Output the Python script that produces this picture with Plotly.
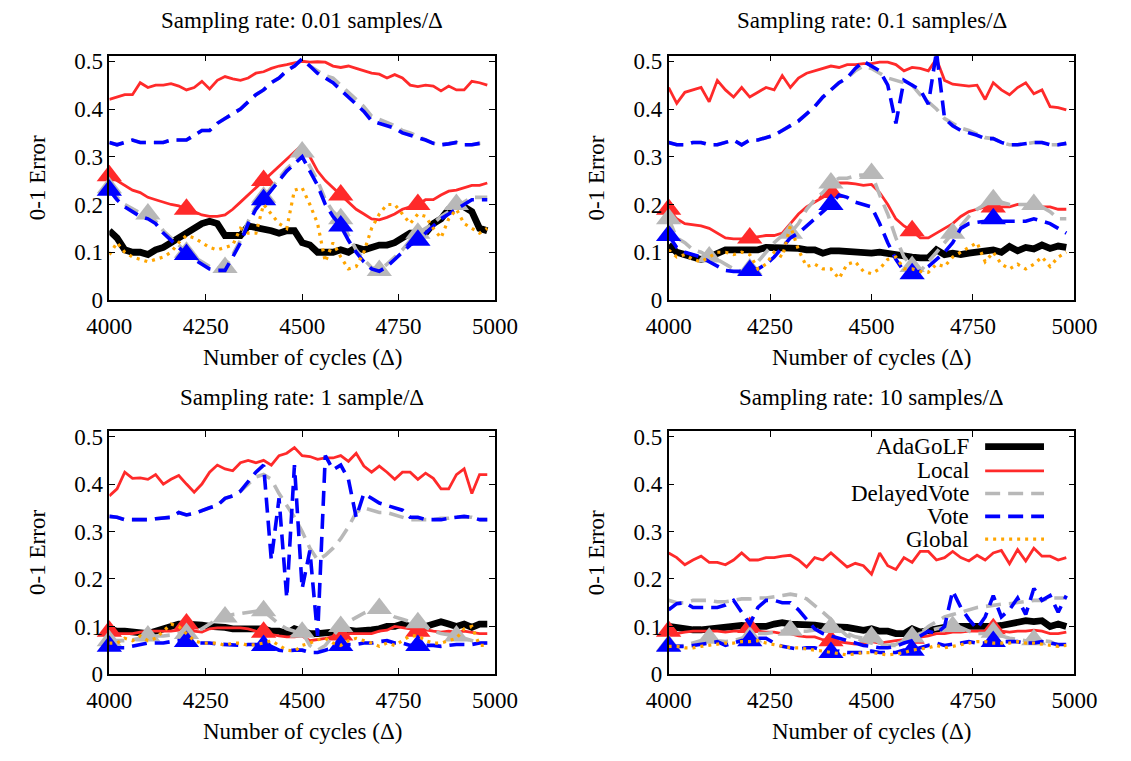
import plotly.graph_objects as go

# ---------------- data ----------------
cycles = [4000, 4020, 4040, 4060, 4080, 4100, 4120, 4140, 4160, 4180,
          4200, 4220, 4240, 4260, 4280, 4300, 4320, 4340, 4360, 4380,
          4400, 4420, 4440, 4460, 4480, 4500, 4520, 4540, 4560, 4580,
          4600, 4620, 4640, 4660, 4680, 4700, 4720, 4740, 4760, 4780,
          4800, 4820, 4840, 4860, 4880, 4900, 4920, 4940, 4960, 4980]

x_ticks = [4000, 4250, 4500, 4750, 5000]
y_ticks = [0, 0.1, 0.2, 0.3, 0.4, 0.5]
y_tick_labels = ["0", "0.1", "0.2", "0.3", "0.4", "0.5"]

panel_titles = ["Sampling rate: 0.01 samples/\u0394", "Sampling rate: 0.1 samples/\u0394",
                "Sampling rate: 1 sample/\u0394", "Sampling rate: 10 samples/\u0394"]
legend_names = ["AdaGoLF", "Local", "DelayedVote", "Vote", "Global"]

# Panel 1: 0.01 samples/Delta
p1_adagolf = [0.145, 0.13, 0.105, 0.1, 0.1, 0.095, 0.105, 0.11, 0.12, 0.13,
              0.14, 0.15, 0.16, 0.165, 0.16, 0.135, 0.135, 0.135, 0.155, 0.152,
              0.15, 0.145, 0.14, 0.145, 0.145, 0.12, 0.115, 0.1, 0.1, 0.1,
              0.105, 0.1, 0.11, 0.105, 0.11, 0.115, 0.115, 0.12, 0.13, 0.14,
              0.14, 0.14, 0.16, 0.17, 0.19, 0.2, 0.195, 0.185, 0.15, 0.145]
p1_local = [0.42, 0.425, 0.43, 0.43, 0.455, 0.445, 0.45, 0.45, 0.453, 0.448,
            0.44, 0.445, 0.458, 0.442, 0.46, 0.468, 0.463, 0.46, 0.465, 0.475,
            0.478, 0.485, 0.49, 0.493, 0.497, 0.5, 0.498, 0.499, 0.498, 0.49,
            0.487, 0.49, 0.485, 0.48, 0.475, 0.473, 0.465, 0.472, 0.465, 0.45,
            0.447, 0.45, 0.448, 0.438, 0.448, 0.44, 0.44, 0.458, 0.455, 0.45]
p1_local_b = [0.26, 0.25, 0.24, 0.23, 0.225, 0.215, 0.21, 0.205, 0.2, 0.197,
              0.19, 0.185, 0.178, 0.175, 0.175, 0.178, 0.19, 0.205, 0.22, 0.237,
              0.25, 0.265, 0.28, 0.295, 0.31, 0.325, 0.3, 0.27, 0.25, 0.235,
              0.22, 0.205, 0.19, 0.18, 0.17, 0.168, 0.173, 0.18, 0.19, 0.195,
              0.2, 0.21, 0.21, 0.22, 0.228, 0.23, 0.235, 0.24, 0.24, 0.245]
p1_delayed = [0.33, 0.325, 0.33, 0.335, 0.33, 0.33, 0.33, 0.33, 0.335, 0.335,
              0.335, 0.345, 0.355, 0.355, 0.37, 0.38, 0.39, 0.4, 0.415, 0.43,
              0.44, 0.455, 0.465, 0.48, 0.49, 0.505, 0.49, 0.48, 0.47, 0.465,
              0.45, 0.435, 0.42, 0.405, 0.385, 0.378, 0.372, 0.365, 0.355, 0.35,
              0.343, 0.335, 0.328, 0.325, 0.327, 0.33, 0.325, 0.325, 0.328, 0.33]
p1_delayed_b = [0.235, 0.215, 0.2, 0.19, 0.182, 0.18, 0.165, 0.145, 0.13, 0.115,
                0.1, 0.09, 0.08, 0.07, 0.067, 0.068, 0.095, 0.125, 0.165, 0.195,
                0.215, 0.235, 0.255, 0.275, 0.29, 0.31, 0.28, 0.25, 0.21, 0.185,
                0.17, 0.135, 0.105, 0.085, 0.068, 0.062, 0.075, 0.09, 0.105, 0.125,
                0.14, 0.15, 0.16, 0.175, 0.185, 0.2, 0.205, 0.215, 0.215, 0.215]
p1_vote = [0.33, 0.325, 0.33, 0.335, 0.33, 0.33, 0.33, 0.33, 0.335, 0.335,
           0.335, 0.345, 0.355, 0.355, 0.37, 0.38, 0.39, 0.4, 0.415, 0.43,
           0.44, 0.455, 0.465, 0.48, 0.49, 0.505, 0.49, 0.475, 0.465, 0.455,
           0.44, 0.425, 0.41, 0.395, 0.375, 0.37, 0.365, 0.36, 0.35, 0.345,
           0.34, 0.335, 0.328, 0.325, 0.327, 0.33, 0.325, 0.325, 0.328, 0.33]
p1_vote_b = [0.23, 0.21, 0.195, 0.185, 0.175, 0.17, 0.16, 0.14, 0.125, 0.11,
             0.095, 0.085, 0.075, 0.065, 0.062, 0.062, 0.09, 0.12, 0.16, 0.19,
             0.21, 0.23, 0.25, 0.27, 0.285, 0.3, 0.27, 0.24, 0.2, 0.175,
             0.155, 0.125, 0.1, 0.08, 0.065, 0.06, 0.07, 0.085, 0.1, 0.115,
             0.125, 0.14, 0.155, 0.17, 0.18, 0.19, 0.2, 0.21, 0.21, 0.21]
p1_global = [0.095, 0.12, 0.1, 0.09, 0.085, 0.08, 0.085, 0.09, 0.1, 0.12,
             0.135, 0.13, 0.12, 0.11, 0.105, 0.11, 0.115, 0.15, 0.14, 0.14,
             0.2, 0.18, 0.16, 0.15, 0.23, 0.235, 0.2, 0.16, 0.08, 0.12,
             0.09, 0.065, 0.07, 0.1, 0.15, 0.18, 0.2, 0.2, 0.18, 0.16,
             0.18, 0.175, 0.15, 0.13, 0.17, 0.19, 0.16, 0.15, 0.14, 0.15]

# Panel 2: 0.1 samples/Delta
p2_adagolf = [0.115, 0.1, 0.095, 0.09, 0.085, 0.09, 0.098, 0.105, 0.105, 0.105,
              0.105, 0.105, 0.11, 0.11, 0.108, 0.11, 0.108, 0.105, 0.105, 0.098,
              0.103, 0.103, 0.102, 0.1, 0.098, 0.098, 0.1, 0.097, 0.095, 0.09,
              0.09, 0.088, 0.088, 0.105, 0.095, 0.098, 0.095, 0.098, 0.1, 0.102,
              0.105, 0.1, 0.112, 0.103, 0.11, 0.107, 0.115, 0.108, 0.113, 0.11]
p2_local = [0.445, 0.412, 0.435, 0.44, 0.445, 0.415, 0.46, 0.44, 0.425, 0.445,
            0.425, 0.435, 0.445, 0.44, 0.47, 0.445, 0.465, 0.475, 0.48, 0.485,
            0.49, 0.487, 0.493, 0.493, 0.495, 0.495, 0.498, 0.498, 0.493, 0.48,
            0.487, 0.485, 0.48, 0.505, 0.46, 0.452, 0.45, 0.448, 0.45, 0.42,
            0.455, 0.44, 0.43, 0.445, 0.455, 0.432, 0.44, 0.405, 0.403, 0.398]
p2_local_b = [0.19, 0.17, 0.16, 0.158, 0.155, 0.15, 0.14, 0.13, 0.128, 0.128,
              0.13, 0.132, 0.135, 0.135, 0.14, 0.16, 0.18, 0.195, 0.205, 0.215,
              0.225, 0.245, 0.245, 0.243, 0.24, 0.242, 0.225, 0.2, 0.17, 0.155,
              0.145, 0.13, 0.13, 0.14, 0.15, 0.16, 0.175, 0.185, 0.19, 0.195,
              0.195, 0.195, 0.195, 0.2, 0.2, 0.198, 0.195, 0.195, 0.19, 0.19]
p2_delayed = [0.33, 0.325, 0.325, 0.33, 0.33, 0.325, 0.325, 0.33, 0.335, 0.325,
              0.335, 0.335, 0.34, 0.345, 0.355, 0.365, 0.375, 0.39, 0.405, 0.425,
              0.44, 0.455, 0.465, 0.48, 0.49, 0.485, 0.475, 0.465, 0.46, 0.455,
              0.45, 0.43, 0.415, 0.4, 0.38, 0.37, 0.36, 0.355, 0.348, 0.34,
              0.338, 0.33, 0.325, 0.325, 0.327, 0.33, 0.33, 0.325, 0.325, 0.328]
p2_delayed_b = [0.17, 0.13, 0.12, 0.105, 0.1, 0.09, 0.085, 0.075, 0.065, 0.06,
                0.065, 0.08, 0.1, 0.12, 0.135, 0.14, 0.16, 0.19, 0.21, 0.225,
                0.245, 0.255, 0.255, 0.26, 0.262, 0.265, 0.22, 0.18, 0.13, 0.09,
                0.07, 0.06, 0.08, 0.1, 0.12, 0.14, 0.155, 0.175, 0.19, 0.2,
                0.21, 0.205, 0.2, 0.2, 0.2, 0.2, 0.195, 0.185, 0.17, 0.17]
p2_vote = [0.33, 0.325, 0.325, 0.33, 0.33, 0.325, 0.325, 0.33, 0.335, 0.325,
           0.335, 0.335, 0.34, 0.345, 0.355, 0.365, 0.375, 0.39, 0.405, 0.425,
           0.44, 0.455, 0.465, 0.485, 0.5, 0.49, 0.48, 0.45, 0.37, 0.46,
           0.45, 0.44, 0.41, 0.52, 0.38, 0.365, 0.355, 0.35, 0.345, 0.338,
           0.338, 0.33, 0.325, 0.325, 0.327, 0.33, 0.33, 0.325, 0.325, 0.328]
p2_vote_b = [0.135, 0.11, 0.1, 0.095, 0.09, 0.08, 0.07, 0.062, 0.06, 0.06,
             0.062, 0.065, 0.075, 0.09, 0.11, 0.13, 0.14, 0.155, 0.17, 0.185,
             0.2, 0.22, 0.215, 0.205, 0.2, 0.195, 0.16, 0.12, 0.085, 0.06,
             0.055, 0.06, 0.07, 0.085, 0.1, 0.12, 0.15, 0.16, 0.162, 0.165,
             0.17, 0.165, 0.165, 0.165, 0.165, 0.17, 0.165, 0.16, 0.15, 0.14]
p2_global = [0.105, 0.09, 0.095, 0.085, 0.08, 0.09, 0.1, 0.1, 0.095, 0.1,
             0.095, 0.065, 0.075, 0.1, 0.09, 0.155, 0.105, 0.07, 0.075, 0.065,
             0.065, 0.045, 0.075, 0.08, 0.06, 0.055, 0.065, 0.085, 0.09, 0.065,
             0.065, 0.06, 0.058, 0.075, 0.07, 0.09, 0.1, 0.11, 0.12, 0.08,
             0.1, 0.075, 0.065, 0.075, 0.065, 0.075, 0.09, 0.07, 0.09, 0.1]

# Panel 3: 1 sample/Delta
p3_adagolf = [0.095, 0.09, 0.09, 0.088, 0.085, 0.085, 0.09, 0.095, 0.1, 0.105,
              0.105, 0.105, 0.103, 0.1, 0.1, 0.098, 0.095, 0.095, 0.095, 0.095,
              0.095, 0.09, 0.09, 0.085, 0.095, 0.09, 0.085, 0.085, 0.085, 0.088,
              0.09, 0.092, 0.09, 0.09, 0.093, 0.095, 0.1, 0.1, 0.105, 0.1,
              0.098, 0.1, 0.105, 0.11, 0.105, 0.1, 0.105, 0.098, 0.105, 0.105]
p3_local = [0.375, 0.39, 0.425, 0.412, 0.413, 0.41, 0.42, 0.4, 0.41, 0.418,
            0.4, 0.383, 0.4, 0.425, 0.44, 0.432, 0.428, 0.445, 0.45, 0.445,
            0.45, 0.44, 0.46, 0.465, 0.477, 0.46, 0.458, 0.452, 0.455, 0.455,
            0.46, 0.448, 0.465, 0.438, 0.425, 0.438, 0.425, 0.41, 0.425, 0.425,
            0.41, 0.423, 0.412, 0.39, 0.39, 0.42, 0.432, 0.38, 0.42, 0.42]
p3_local_b = [0.09, 0.085, 0.085, 0.085, 0.088, 0.09, 0.09, 0.09, 0.09, 0.092,
              0.105, 0.09, 0.088, 0.095, 0.097, 0.097, 0.097, 0.097, 0.095, 0.09,
              0.088, 0.083, 0.08, 0.078, 0.078, 0.08, 0.07, 0.072, 0.075, 0.078,
              0.082, 0.085, 0.085, 0.085, 0.085, 0.09, 0.092, 0.1, 0.098, 0.095,
              0.09, 0.093, 0.09, 0.088, 0.09, 0.088, 0.09, 0.088, 0.085, 0.085]
p3_delayed = [0.332, 0.33, 0.325, 0.325, 0.325, 0.325, 0.327, 0.328, 0.33, 0.34,
              0.335, 0.338, 0.345, 0.35, 0.355, 0.37, 0.375, 0.385, 0.4, 0.415,
              0.42, 0.41, 0.38, 0.355, 0.33, 0.3, 0.265, 0.24, 0.25, 0.265,
              0.285, 0.31, 0.34, 0.35, 0.345, 0.34, 0.34, 0.335, 0.33, 0.325,
              0.325, 0.325, 0.325, 0.328, 0.328, 0.33, 0.33, 0.33, 0.325, 0.325]
p3_delayed_b = [0.07, 0.07, 0.07, 0.072, 0.075, 0.08, 0.08, 0.08, 0.082, 0.085,
                0.085, 0.088, 0.095, 0.105, 0.115, 0.12, 0.125, 0.127, 0.13, 0.132,
                0.133, 0.12, 0.105, 0.095, 0.09, 0.088, 0.06, 0.05, 0.06, 0.08,
                0.1, 0.11, 0.12, 0.128, 0.135, 0.138, 0.13, 0.12, 0.115, 0.11,
                0.108, 0.1, 0.09, 0.085, 0.082, 0.08, 0.075, 0.07, 0.065, 0.065]
p3_vote = [0.332, 0.33, 0.325, 0.325, 0.325, 0.325, 0.327, 0.328, 0.33, 0.34,
           0.335, 0.338, 0.345, 0.35, 0.355, 0.37, 0.375, 0.385, 0.405, 0.425,
           0.44, 0.24, 0.37, 0.16, 0.44, 0.18, 0.26, 0.08, 0.46, 0.43,
           0.44, 0.41, 0.33, 0.38, 0.37, 0.36, 0.355, 0.35, 0.345, 0.33,
           0.33, 0.325, 0.325, 0.325, 0.328, 0.33, 0.332, 0.33, 0.325, 0.325]
p3_vote_b = [0.058, 0.055, 0.055, 0.058, 0.062, 0.065, 0.065, 0.065, 0.068, 0.07,
             0.068, 0.065, 0.065, 0.065, 0.063, 0.062, 0.06, 0.06, 0.062, 0.062,
             0.06, 0.058, 0.05, 0.048, 0.05, 0.05, 0.045, 0.045, 0.05, 0.055,
             0.06, 0.062, 0.062, 0.065, 0.065, 0.068, 0.07, 0.065, 0.065, 0.06,
             0.06, 0.06, 0.06, 0.058, 0.06, 0.062, 0.062, 0.062, 0.065, 0.065]
p3_global = [0.065, 0.065, 0.075, 0.07, 0.08, 0.07, 0.075, 0.09, 0.105, 0.1,
             0.085, 0.07, 0.065, 0.065, 0.065, 0.06, 0.065, 0.065, 0.06, 0.062,
             0.065, 0.07, 0.06, 0.05, 0.048, 0.06, 0.065, 0.072, 0.075, 0.065,
             0.06, 0.07, 0.075, 0.07, 0.065, 0.058, 0.065, 0.06, 0.07, 0.08,
             0.08, 0.07, 0.065, 0.065, 0.07, 0.075, 0.095, 0.1, 0.06, 0.06]

# Panel 4: 10 samples/Delta
p4_adagolf = [0.1, 0.097, 0.095, 0.093, 0.093, 0.095, 0.095, 0.098, 0.1, 0.102,
              0.1, 0.1, 0.1, 0.105, 0.108, 0.105, 0.105, 0.103, 0.103, 0.1,
              0.1, 0.1, 0.098, 0.095, 0.092, 0.095, 0.09, 0.09, 0.085, 0.085,
              0.095, 0.088, 0.092, 0.095, 0.098, 0.1, 0.1, 0.098, 0.1, 0.1,
              0.1, 0.102, 0.105, 0.108, 0.112, 0.11, 0.112, 0.1, 0.105, 0.1]
p4_local = [0.255, 0.245, 0.23, 0.24, 0.248, 0.235, 0.235, 0.23, 0.24, 0.255,
            0.24, 0.24, 0.245, 0.245, 0.248, 0.25, 0.24, 0.225, 0.245, 0.24,
            0.255, 0.24, 0.225, 0.233, 0.228, 0.21, 0.255, 0.228, 0.22, 0.245,
            0.235, 0.258, 0.258, 0.24, 0.245, 0.258, 0.245, 0.238, 0.25, 0.24,
            0.255, 0.26, 0.232, 0.262, 0.238, 0.265, 0.248, 0.248, 0.24, 0.245]
p4_local_b = [0.09, 0.085, 0.088, 0.09, 0.09, 0.09, 0.09, 0.088, 0.09, 0.09,
              0.098, 0.09, 0.088, 0.088, 0.085, 0.085, 0.08, 0.078, 0.078, 0.072,
              0.07, 0.068, 0.065, 0.063, 0.065, 0.068, 0.065, 0.068, 0.07, 0.072,
              0.075, 0.078, 0.08, 0.085, 0.085, 0.088, 0.088, 0.09, 0.09, 0.09,
              0.095, 0.09, 0.088, 0.09, 0.09, 0.092, 0.09, 0.085, 0.085, 0.088]
p4_delayed = [0.155, 0.15, 0.15, 0.155, 0.155, 0.155, 0.152, 0.152, 0.155, 0.158,
              0.158, 0.16, 0.16, 0.162, 0.165, 0.168, 0.165, 0.158, 0.145, 0.13,
              0.115, 0.095, 0.08, 0.075, 0.07, 0.065, 0.06, 0.06, 0.06, 0.065,
              0.075, 0.085, 0.1, 0.11, 0.12, 0.125, 0.13, 0.135, 0.14, 0.142,
              0.145, 0.147, 0.148, 0.15, 0.152, 0.155, 0.155, 0.16, 0.16, 0.16]
p4_delayed_b = [0.06, 0.058, 0.06, 0.065, 0.07, 0.075, 0.07, 0.068, 0.07, 0.075,
                0.078, 0.085, 0.085, 0.088, 0.09, 0.092, 0.09, 0.09, 0.092, 0.095,
                0.098, 0.09, 0.085, 0.078, 0.075, 0.078, 0.065, 0.06, 0.062, 0.07,
                0.078, 0.085, 0.09, 0.095, 0.098, 0.1, 0.098, 0.09, 0.085, 0.085,
                0.088, 0.08, 0.075, 0.072, 0.07, 0.072, 0.07, 0.068, 0.06, 0.06]
p4_vote = [0.135, 0.148, 0.15, 0.14, 0.14, 0.14, 0.14, 0.145, 0.155, 0.13,
           0.105, 0.14, 0.155, 0.155, 0.15, 0.15, 0.135, 0.115, 0.095, 0.085,
           0.08, 0.075, 0.07, 0.065, 0.06, 0.058, 0.055, 0.055, 0.058, 0.065,
           0.07, 0.08, 0.09, 0.085, 0.1, 0.175, 0.14, 0.115, 0.095, 0.12,
           0.165, 0.12, 0.135, 0.16, 0.125, 0.18, 0.155, 0.165, 0.13, 0.165]
p4_vote_b = [0.058, 0.058, 0.058, 0.06, 0.062, 0.065, 0.068, 0.06, 0.065, 0.07,
             0.07, 0.075, 0.075, 0.065, 0.058, 0.055, 0.052, 0.055, 0.055, 0.05,
             0.045, 0.048, 0.045, 0.045, 0.045, 0.048, 0.045, 0.045, 0.045, 0.05,
             0.05, 0.055, 0.06, 0.065, 0.06, 0.062, 0.065, 0.068, 0.065, 0.065,
             0.068, 0.068, 0.068, 0.068, 0.065, 0.065, 0.068, 0.065, 0.062, 0.062]
p4_global = [0.058, 0.058, 0.055, 0.055, 0.058, 0.06, 0.062, 0.065, 0.065, 0.068,
             0.068, 0.07, 0.065, 0.062, 0.058, 0.055, 0.055, 0.052, 0.05, 0.048,
             0.045, 0.042, 0.04, 0.042, 0.045, 0.045, 0.042, 0.04, 0.042, 0.045,
             0.05, 0.052, 0.055, 0.06, 0.055, 0.058, 0.062, 0.065, 0.068, 0.068,
             0.065, 0.065, 0.065, 0.068, 0.065, 0.065, 0.063, 0.06, 0.058, 0.06]

panels = [
    dict(adagolf=p1_adagolf, local=p1_local, local_b=p1_local_b, delayed=p1_delayed,
         delayed_b=p1_delayed_b, vote=p1_vote, vote_b=p1_vote_b, glob=p1_global),
    dict(adagolf=p2_adagolf, local=p2_local, local_b=p2_local_b, delayed=p2_delayed,
         delayed_b=p2_delayed_b, vote=p2_vote, vote_b=p2_vote_b, glob=p2_global),
    dict(adagolf=p3_adagolf, local=p3_local, local_b=p3_local_b, delayed=p3_delayed,
         delayed_b=p3_delayed_b, vote=p3_vote, vote_b=p3_vote_b, glob=p3_global),
    dict(adagolf=p4_adagolf, local=p4_local, local_b=p4_local_b, delayed=p4_delayed,
         delayed_b=p4_delayed_b, vote=p4_vote, vote_b=p4_vote_b, glob=p4_global),
]

# ---------------- styles ----------------
FONT = "Liberation Serif, Times New Roman, serif"
FS = 23
RED = "#ff2a2a"
GRAY = "#b8b8b8"
BLUE = "#0000ff"
ORANGE = "#ffa500"
styles = {
    "adagolf": dict(color="black", width=6.8, dash="solid"),
    "local": dict(color=RED, width=2.8, dash="solid"),
    "delayed": dict(color=GRAY, width=3.6, dash="15px,8px"),
    "vote": dict(color=BLUE, width=3.6, dash="15px,8px"),
    "glob": dict(color=ORANGE, width=3.2, dash="3px,5px"),
}
TRI = 22
W, H = 1131, 761

# plot-area bounds in pixels
xdoms = [(90.0, 492.0), (673.0, 1096.0)]
ydoms = [(51.0, 301.5), (436.0, 685.0)]

fig = go.Figure()

def axis_names(k):
    return ("x" if k == 0 else f"x{k+1}", "y" if k == 0 else f"y{k+1}")

def msizes(step):
    return [TRI if i % step == 0 else 0 for i in range(len(cycles))]

order = [("adagolf", "adagolf", None), ("local", "local", None), ("local_b", "local", 10),
         ("delayed", "delayed", None), ("delayed_b", "delayed", 5),
         ("vote", "vote", None), ("vote_b", "vote", 10), ("glob", "glob", None)]

for k, pdata in enumerate(panels):
    xa, ya = axis_names(k)
    for key, sty, step in order:
        st = styles[sty]
        tr = dict(x=cycles, y=pdata[key], xaxis=xa, yaxis=ya, showlegend=False,
                  line=dict(color=st["color"], width=st["width"], dash=st["dash"]),
                  hoverinfo="skip")
        if step:
            tr["mode"] = "lines+markers"
            tr["marker"] = dict(symbol="triangle-up", size=msizes(step), color=st["color"],
                                opacity=1, line=dict(width=0))
            tr["cliponaxis"] = False
        else:
            tr["mode"] = "lines"
        fig.add_trace(go.Scatter(**tr))

layout = dict(width=W, height=H, margin=dict(l=0, r=0, t=0, b=0),
              paper_bgcolor="white", plot_bgcolor="white", showlegend=False,
              font=dict(family=FONT, size=FS, color="black"))

annotations = []
shapes = []
for k in range(4):
    col, row = k % 2, k // 2
    x0, x1 = xdoms[col]
    y0, y1 = ydoms[row]
    xname = "xaxis" if k == 0 else f"xaxis{k+1}"
    yname = "yaxis" if k == 0 else f"yaxis{k+1}"
    xa, ya = axis_names(k)
    layout[xname] = dict(domain=[x0 / W, x1 / W], range=[4000, 5000], anchor=ya,
                         tickvals=x_ticks, ticktext=[str(v) for v in x_ticks],
                         ticks="inside", ticklen=6, tickwidth=1.2, tickcolor="black",
                         ticklabelstandoff=5,
                         showline=True, linecolor="black", linewidth=1.5, mirror="ticks",
                         showgrid=False, zeroline=False,
                         tickfont=dict(family=FONT, size=FS, color="black"))
    layout[yname] = dict(domain=[1 - y1 / H, 1 - y0 / H], range=[0, 0.5116], anchor=xa,
                         tickvals=y_ticks, ticktext=y_tick_labels,
                         ticks="inside", ticklen=6, tickwidth=1.2, tickcolor="black",
                         showline=True, linecolor="black", linewidth=1.5, mirror="ticks",
                         showgrid=False, zeroline=False,
                         tickfont=dict(family=FONT, size=FS, color="black"))
    cx = (x0 + x1) / 2 / W
    annotations.append(dict(text=panel_titles[k], xref="paper", yref="paper",
                            x=cx, y=1 - (15 if row == 0 else 401.7) / H,
                            xanchor="center", yanchor="middle", showarrow=False,
                            font=dict(family=FONT, size=FS, color="black")))
    annotations.append(dict(text="Number of cycles (\u0394)", xref="paper", yref="paper",
                            x=cx, y=1 - (y1 + 59.5) / H,
                            xanchor="center", yanchor="middle", showarrow=False,
                            font=dict(family=FONT, size=FS, color="black")))
    annotations.append(dict(text="0-1 Error", xref="paper", yref="paper",
                            x=(x0 - 75) / W, y=1 - ((y0 + y1) / 2) / H,
                            xanchor="center", yanchor="middle", showarrow=False,
                            textangle=-90,
                            font=dict(family=FONT, size=FS, color="black")))

# legend inside the last panel: right-aligned text, sample line to its right
leg_y = [0.479, 0.428, 0.380, 0.332, 0.284]
leg_keys = ["adagolf", "local", "delayed", "vote", "glob"]
for name, key, yy in zip(legend_names, leg_keys, leg_y):
    st = styles[key]
    annotations.append(dict(text=name, xref="x4 domain", yref="y4", x=0.745, y=yy,
                            xanchor="right", yanchor="middle", showarrow=False,
                            font=dict(family=FONT, size=FS, color="black")))
    shapes.append(dict(type="line", xref="x4 domain", yref="y4", x0=0.78, x1=0.925,
                       y0=yy, y1=yy,
                       line=dict(color=st["color"], width=st["width"], dash=st["dash"])))

layout["annotations"] = annotations
layout["shapes"] = shapes
fig.update_layout(**layout)
fig.write_html("out.html")
